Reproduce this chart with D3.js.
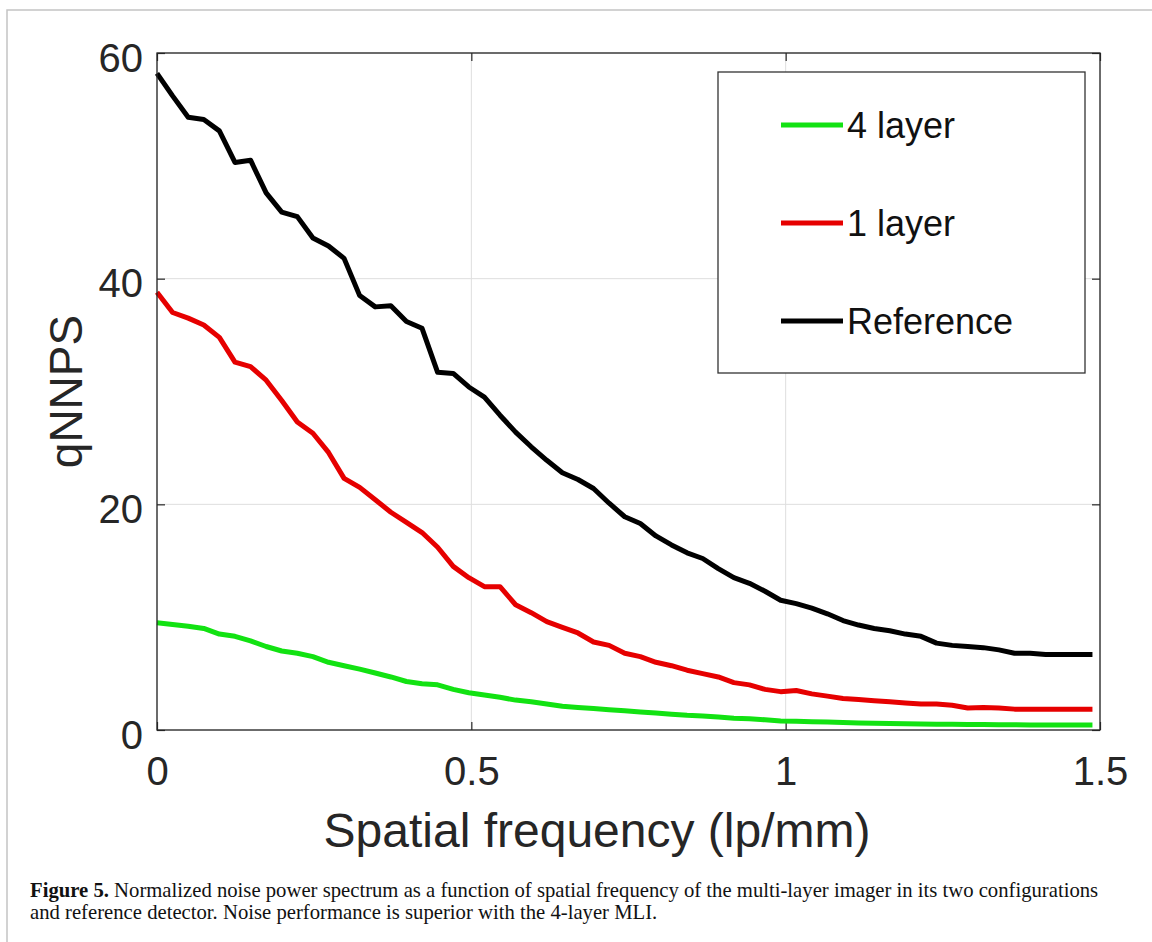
<!DOCTYPE html>
<html>
<head>
<meta charset="utf-8">
<script src="https://cdn.jsdelivr.net/npm/d3@7"></script>
<style>
  body { margin: 0; background: #fff; }
  svg text { font-family: "Liberation Sans", Arial, Helvetica, sans-serif; }
  .caption { font-family: "Liberation Serif", "Times New Roman", serif !important; }
</style>
</head>
<body>
<svg id="chart"></svg>
<script>
// 1. Data
const freq = [0, 0.0248, 0.0496, 0.0744, 0.0992, 0.124, 0.1488, 0.1736, 0.1984, 0.2232,
  0.248, 0.2728, 0.2976, 0.3224, 0.3472, 0.372, 0.3968, 0.4216, 0.4464, 0.4712,
  0.496, 0.5208, 0.5456, 0.5704, 0.5952, 0.62, 0.6448, 0.6696, 0.6944, 0.7192,
  0.744, 0.7688, 0.7936, 0.8184, 0.8432, 0.868, 0.8928, 0.9176, 0.9424, 0.9672,
  0.992, 1.0168, 1.0416, 1.0664, 1.0912, 1.116, 1.1408, 1.1656, 1.1904, 1.2152,
  1.24, 1.2648, 1.2896, 1.3144, 1.3392, 1.364, 1.3888, 1.4136, 1.4384, 1.4632, 1.488];

const layer4 = [9.5, 9.35, 9.2, 9.0, 8.5, 8.3, 7.9, 7.4, 7.0, 6.8,
  6.5, 6.0, 5.7, 5.4, 5.05, 4.7, 4.3, 4.1, 4.0, 3.6,
  3.3, 3.1, 2.9, 2.65, 2.5, 2.3, 2.1, 2.0, 1.9, 1.8,
  1.7, 1.6, 1.5, 1.4, 1.3, 1.25, 1.15, 1.05, 1.0, 0.9,
  0.8, 0.78, 0.74, 0.7, 0.66, 0.63, 0.6, 0.58, 0.56, 0.54,
  0.52, 0.5, 0.49, 0.48, 0.47, 0.46, 0.45, 0.45, 0.44, 0.44, 0.44];

const layer1 = [38.8, 37.0, 36.5, 35.9, 34.8, 32.6, 32.2, 31.0, 29.2, 27.3,
  26.3, 24.6, 22.3, 21.5, 20.4, 19.3, 18.4, 17.5, 16.2, 14.5,
  13.5, 12.7, 12.7, 11.1, 10.4, 9.6, 9.1, 8.6, 7.8, 7.5,
  6.8, 6.5, 6.0, 5.7, 5.3, 5.0, 4.7, 4.2, 4.0, 3.6,
  3.4, 3.5, 3.2, 3.0, 2.8, 2.7, 2.6, 2.5, 2.4, 2.3,
  2.3, 2.2, 1.95, 2.0, 1.95, 1.85, 1.85, 1.85, 1.85, 1.85, 1.85];

const reference = [58.2, 56.2, 54.3, 54.1, 53.1, 50.3, 50.5, 47.6, 45.9, 45.5,
  43.6, 42.9, 41.8, 38.5, 37.5, 37.6, 36.2, 35.6, 31.7, 31.6,
  30.4, 29.5, 27.9, 26.4, 25.1, 23.9, 22.8, 22.2, 21.4, 20.1,
  18.9, 18.3, 17.2, 16.4, 15.7, 15.2, 14.3, 13.5, 13.0, 12.3,
  11.5, 11.2, 10.8, 10.3, 9.7, 9.3, 9.0, 8.8, 8.5, 8.3,
  7.7, 7.5, 7.4, 7.3, 7.1, 6.8, 6.8, 6.7, 6.7, 6.7, 6.7];

const seriesNames = ["4 layer", "1 layer", "Reference"];
const seriesColors = ["#12e212", "#e60000", "#000000"];
const xTicks = [0, 0.5, 1, 1.5];
const xTickLabels = ["0", "0.5", "1", "1.5"];
const yTicks = [0, 20, 40, 60];
const yTickLabels = ["0", "20", "40", "60"];

const series = [layer4, layer1, reference].map((vals, i) => ({
  name: seriesNames[i],
  color: seriesColors[i],
  values: vals.map((v, j) => ({ f: freq[j], v: v }))
}));

// 2. Setup
const width = 1152, height = 942;
const margin = { left: 157, top: 53, right: 1152 - 1100, bottom: 942 - 730 };
const innerW = width - margin.left - margin.right;
const innerH = height - margin.top - margin.bottom;

const svg = d3.select("#chart").attr("width", width).attr("height", height);

// outer frame of the figure panel
svg.append("rect")
  .attr("x", 7).attr("y", 10)
  .attr("width", width + 20).attr("height", height + 20)
  .attr("fill", "none")
  .attr("stroke", "#c4c4c4")
  .attr("stroke-width", 1.5);

const g = svg.append("g").attr("transform", `translate(${margin.left},${margin.top})`);

const x = d3.scaleLinear().domain([0, 1.5]).range([0, innerW]);
const y = d3.scaleLinear().domain([0, 60]).range([innerH, 0]);

// 3. Grid
g.append("g")
  .selectAll("line.gx")
  .data(xTicks)
  .enter()
  .append("line")
  .attr("x1", (d) => x(d)).attr("x2", (d) => x(d))
  .attr("y1", 0).attr("y2", innerH)
  .attr("stroke", "#dedede").attr("stroke-width", 1);

g.append("g")
  .selectAll("line.gy")
  .data(yTicks)
  .enter()
  .append("line")
  .attr("y1", (d) => y(d)).attr("y2", (d) => y(d))
  .attr("x1", 0).attr("x2", innerW)
  .attr("stroke", "#dedede").attr("stroke-width", 1);

// 4. Axes (inward ticks, MATLAB style box)
const axisColor = "#262626";

const xAxis = g.append("g")
  .attr("transform", `translate(0,${innerH})`)
  .call(d3.axisBottom(x).tickValues(xTicks)
    .tickFormat((d, i) => xTickLabels[i])
    .tickSizeInner(-8).tickSizeOuter(0).tickPadding(27));

const yAxis = g.append("g")
  .call(d3.axisLeft(y).tickValues(yTicks)
    .tickFormat((d, i) => yTickLabels[i])
    .tickSizeInner(-8).tickSizeOuter(0).tickPadding(14));

g.append("g")
  .call(d3.axisTop(x).tickValues(xTicks).tickFormat("").tickSizeInner(-8).tickSizeOuter(0));

g.append("g")
  .attr("transform", `translate(${innerW},0)`)
  .call(d3.axisRight(y).tickValues(yTicks).tickFormat("").tickSizeInner(-8).tickSizeOuter(0));

g.selectAll(".domain").remove();
g.selectAll(".tick line").attr("stroke", axisColor).attr("stroke-width", 1.2);

xAxis.selectAll("text")
  .attr("font-size", 40)
  .attr("fill", axisColor);

yAxis.selectAll("text")
  .attr("font-size", 40)
  .attr("dy", "0.45em")
  .attr("fill", axisColor);

// 5. Lines
const line = d3.line()
  .x((d) => x(d.f))
  .y((d) => y(d.v));

g.selectAll(".series")
  .data(series)
  .enter()
  .append("path")
  .attr("class", "series")
  .attr("d", (d) => line(d.values))
  .attr("fill", "none")
  .attr("stroke", (d) => d.color)
  .attr("stroke-width", 5)
  .attr("stroke-linejoin", "round");

// plot box
g.append("rect")
  .attr("width", innerW).attr("height", innerH)
  .attr("fill", "none")
  .attr("stroke", axisColor)
  .attr("stroke-width", 1.3);

// 6. Axis labels
svg.append("text")
  .attr("x", 597)
  .attr("y", 847)
  .attr("text-anchor", "middle")
  .attr("font-size", 48)
  .attr("fill", axisColor)
  .text("Spatial frequency (lp/mm)");

svg.append("text")
  .attr("transform", `translate(82,${margin.top + innerH / 2}) rotate(-90)`)
  .attr("text-anchor", "middle")
  .attr("font-size", 46)
  .attr("fill", axisColor)
  .text("qNNPS");

// 7. Legend
const legend = svg.append("g").attr("transform", "translate(718,72)");

legend.append("rect")
  .attr("width", 367).attr("height", 301)
  .attr("fill", "#fff")
  .attr("stroke", "#333")
  .attr("stroke-width", 1.3);

const legendItems = legend.selectAll("g.item")
  .data(series)
  .enter()
  .append("g")
  .attr("class", "item")
  .attr("transform", (d, i) => `translate(0,${53 + i * 98})`);

legendItems.append("line")
  .attr("x1", 63).attr("x2", 125)
  .attr("stroke", (d) => d.color)
  .attr("stroke-width", 5);

legendItems.append("text")
  .attr("x", 129)
  .attr("dy", "0.36em")
  .attr("font-size", 36)
  .attr("fill", "#111")
  .text((d) => d.name);

// 8. Caption
const caption = svg.append("text")
  .attr("class", "caption")
  .attr("x", 30)
  .attr("y", 897)
  .attr("font-size", 20.7)
  .attr("fill", "#111");

caption.append("tspan").attr("font-weight", "bold").text("Figure 5.");
caption.append("tspan")
  .text(" Normalized noise power spectrum as a function of spatial frequency of the multi-layer imager in its two configurations");

svg.append("text")
  .attr("class", "caption")
  .attr("x", 30)
  .attr("y", 919)
  .attr("font-size", 20.7)
  .attr("fill", "#111")
  .text("and reference detector. Noise performance is superior with the 4-layer MLI.");
</script>
</body>
</html>
